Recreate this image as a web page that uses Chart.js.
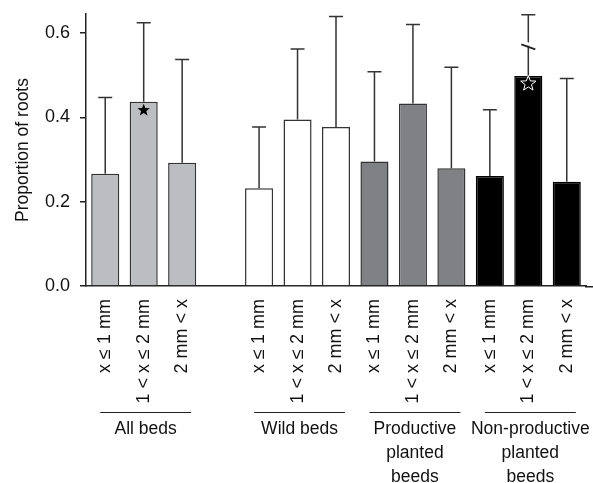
<!DOCTYPE html>
<html>
<head>
<meta charset="utf-8">
<script src="https://cdn.jsdelivr.net/npm/chart.js@4/dist/chart.umd.min.js"></script>
<style>
  html, body { margin: 0; padding: 0; background: #fff; }
  #wrap { width: 593px; height: 483px; }
</style>
</head>
<body>
<div id="wrap"><canvas id="chart"></canvas></div>
<script>
// bed types (groups) and root size classes
const groupNames = [["All beds"], ["Wild beds"], ["Productive", "planted", "beeds"], ["Non-productive", "planted", "beeds"]];
const sizeClasses = ["x \u2264 1 mm", "1 < x \u2264 2 mm", "2 mm < x"];

// proportion of roots (bar height) and top of error bar, 3 per group
const meanRoots = [0.266, 0.437, 0.292, 0.232, 0.395, 0.377, 0.295, 0.433, 0.279, 0.261, 0.498, 0.247];
const upperRoots = [0.447, 0.624, 0.537, 0.377, 0.562, 0.639, 0.508, 0.620, 0.519, 0.418, 0.643, 0.492];
const yTicks = [0, 0.2, 0.4, 0.6];

const groupFill = ["#bcbdc0", "#ffffff", "#808184", "#000000"];
const groupBorder = ["#333333", "#333333", "#333333", "#000000"];

// significance stars: bar index, value, filled?
const stars = [
    { bar: 1, value: 0.417, filled: true },
    { bar: 10, value: 0.48, filled: false }
];
const breakMark = { bar: 10, value: 0.568 };

// build categories with an empty slot after the first group
const labels = [], values = [], uppers = [], fills = [], borders = [], slotOf = [];
meanRoots.forEach((v, i) => {
    const g = Math.floor(i / 3);
    if (i === 3) {
        labels.push(""); values.push(null); uppers.push(null); fills.push("#fff"); borders.push("#fff");
    }
    slotOf.push(labels.length);
    labels.push(sizeClasses[i % 3]);
    values.push(v);
    uppers.push(upperRoots[i]);
    fills.push(groupFill[g]);
    borders.push(groupBorder[g]);
});

const FONT = "'Liberation Sans', Arial, sans-serif";

function starPath(ctx, cx, cy, r) {
    ctx.beginPath();
    for (let k = 0; k < 10; k++) {
        const rad = k % 2 === 0 ? r : r * 0.42;
        const a = -Math.PI / 2 + k * Math.PI / 5;
        const px = cx + rad * Math.cos(a), py = cy + rad * Math.sin(a);
        if (k === 0) ctx.moveTo(px, py); else ctx.lineTo(px, py);
    }
    ctx.closePath();
}

const extras = {
    id: "extras",
    afterDatasetsDraw(chart) {
        const ctx = chart.ctx;
        const x = chart.scales.x, y = chart.scales.y;
        ctx.save();
        // error bars (upper only)
        ctx.strokeStyle = "#333";
        ctx.lineWidth = 1.5;
        values.forEach((v, i) => {
            if (v === null) return;
            const cx = x.getPixelForValue(i);
            const y0 = y.getPixelForValue(v), y1 = y.getPixelForValue(uppers[i]);
            ctx.beginPath();
            ctx.moveTo(cx, y0); ctx.lineTo(cx, y1);
            ctx.moveTo(cx - 7, y1); ctx.lineTo(cx + 7, y1);
            ctx.stroke();
        });
        // axis break on the long error bar
        const bx = x.getPixelForValue(slotOf[breakMark.bar]), by = y.getPixelForValue(breakMark.value);
        ctx.strokeStyle = "#fff";
        ctx.lineWidth = 3;
        ctx.beginPath(); ctx.moveTo(bx - 8, by - 5); ctx.lineTo(bx + 8, by + 0); ctx.stroke();
        ctx.strokeStyle = "#222";
        ctx.lineWidth = 1.8;
        ctx.beginPath(); ctx.moveTo(bx - 7, by - 2); ctx.lineTo(bx + 7, by + 3); ctx.stroke();
        // stars
        stars.forEach(s => {
            const cx = x.getPixelForValue(slotOf[s.bar]), cy = y.getPixelForValue(s.value);
            if (s.filled) {
                starPath(ctx, cx, cy, 6.5);
                ctx.fillStyle = "#000"; ctx.fill();
            } else {
                starPath(ctx, cx, cy, 8);
                ctx.strokeStyle = "#fff"; ctx.lineWidth = 1; ctx.stroke();
            }
        });
        // extend x axis line to the right edge
        ctx.strokeStyle = "#222";
        ctx.lineWidth = 1.5;
        ctx.beginPath();
        ctx.moveTo(chart.chartArea.right - 1, chart.chartArea.bottom + 0.75);
        ctx.lineTo(chart.width, chart.chartArea.bottom + 0.75);
        ctx.stroke();
        // group lines and names
        ctx.fillStyle = "#111";
        ctx.font = "17.5px " + FONT;
        ctx.textAlign = "center";
        ctx.textBaseline = "middle";
        ctx.lineWidth = 1.2;
        groupNames.forEach((names, g) => {
            const xa = x.getPixelForValue(slotOf[g * 3]) - 5;
            const xb = x.getPixelForValue(slotOf[g * 3 + 2]) + 9;
            ctx.beginPath(); ctx.moveTo(xa, 412.5); ctx.lineTo(xb, 412.5); ctx.stroke();
            names.forEach((t, k) => ctx.fillText(t, (xa + xb) / 2, 429 + k * 24.3));
        });
        ctx.restore();
    }
};

new Chart(document.getElementById("chart"), {
    type: "bar",
    data: {
        labels: labels,
        datasets: [{
            data: values,
            backgroundColor: fills,
            borderColor: borders,
            borderWidth: 1.5,
            barPercentage: 0.73,
            categoryPercentage: 1
        }]
    },
    options: {
        responsive: true,
        maintainAspectRatio: false,
        animation: false,
        events: [],
        layout: { padding: { top: 14, right: 7, left: 0, bottom: 0 } },
        plugins: { legend: { display: false }, tooltip: { enabled: false } },
        scales: {
            x: {
                grid: { display: false },
                border: { color: "#222", width: 1.5 },
                afterFit: s => { s.height = 197; s.paddingLeft = 0; s.paddingRight = 0; },
                ticks: {
                    autoSkip: false,
                    minRotation: 90,
                    maxRotation: 90,
                    padding: 5,
                    color: "#111",
                    font: { family: FONT, size: 18 }
                }
            },
            y: {
                min: 0,
                max: 0.645,
                afterFit: s => { s.width = 86; s.paddingTop = 0; s.paddingBottom = 0; },
                afterBuildTicks: s => { s.ticks = yTicks.map(v => ({ value: v })); },
                grid: { drawOnChartArea: false, drawTicks: true, tickLength: 6, color: "#222", lineWidth: 1.5 },
                border: { color: "#222", width: 1.5 },
                ticks: {
                    padding: 10,
                    color: "#111",
                    font: { family: FONT, size: 18 },
                    callback: v => v.toFixed(1)
                },
                title: {
                    display: true,
                    text: "Proportion of roots",
                    color: "#111",
                    font: { family: FONT, size: 17.5 },
                    padding: { top: 13, bottom: 0 }
                }
            }
        }
    },
    plugins: [extras]
});
</script>
</body>
</html>
